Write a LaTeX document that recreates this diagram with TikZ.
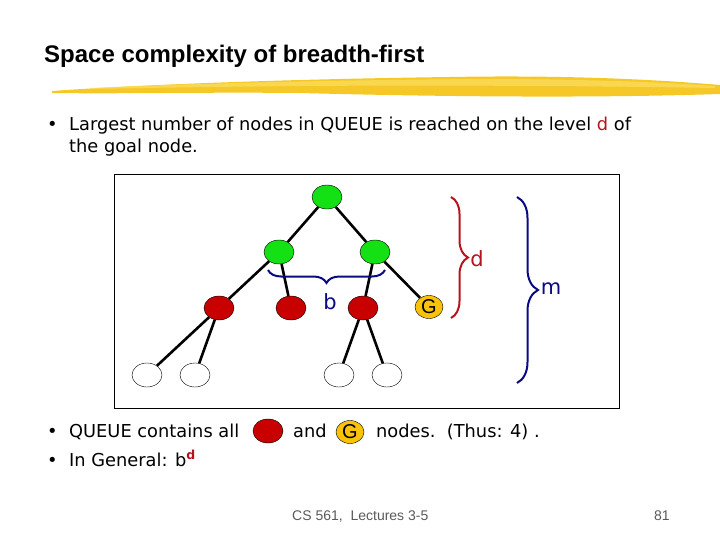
\documentclass[tikz,border=0pt]{standalone}
\usepackage{fontspec}
\setmainfont{Liberation Sans}
\newfontfamily\bodyfont{DejaVu Sans}
\usetikzlibrary{shapes.geometric,decorations.pathreplacing}
\definecolor{nodegreen}{RGB}{20,225,20}
\definecolor{nodered}{RGB}{200,0,0}
\definecolor{goalgold}{RGB}{250,195,10}
\definecolor{bracered}{RGB}{180,20,30}
\definecolor{bracenavy}{RGB}{10,10,130}
\definecolor{hlyellow}{RGB}{245,200,40}
\definecolor{hllight}{RGB}{252,222,95}
\definecolor{footgray}{RGB}{90,90,90}
\tikzset{
  tnode/.style={ellipse, draw=black, thin, minimum width=30pt, minimum height=24pt, inner sep=0pt},
  greennode/.style={tnode, fill=nodegreen},
  rednode/.style={tnode, fill=nodered},
  whitenode/.style={tnode, fill=white},
  goalnode/.style={tnode, fill=goalgold, minimum width=28pt, minimum height=23pt, font=\fontsize{20}{20}\selectfont},
  treeedge/.style={line width=2.6pt},
  bracepath/.style={decorate, line width=2pt},
  bodytext/.style={anchor=base west, inner sep=0pt, font=\bodyfont\fontsize{17.8}{20}\selectfont},
  bracelabel/.style={font=\bodyfont\fontsize{21}{21}\selectfont, inner sep=0pt}
}
\begin{document}
\begin{tikzpicture}[x=1pt, y=-1pt]
  \useasboundingbox (0,0) rectangle (720,540);

  % Title and highlight stroke
  \fill[hlyellow] (52,91) .. controls (150,84) and (300,79) .. (450,77)
    .. controls (560,75) and (650,79) .. (720,85) -- (720,94)
    .. controls (600,98) and (450,97) .. (300,93)
    .. controls (200,92) and (120,94) .. (52,93) -- cycle;
  \fill[hllight, opacity=0.7] (90,88) .. controls (200,83) and (350,80) .. (480,79)
    .. controls (580,79) and (660,82) .. (715,86) -- (715,88)
    .. controls (600,86) and (450,85) .. (300,86) .. controls (200,87) and (140,88) .. (90,89) -- cycle;
  \node[anchor=base west, inner sep=0pt, font=\fontsize{24}{28}\selectfont\bfseries] (title) at (44,63) {Space complexity of breadth-first};

  % Top bullet
  \node[bodytext] (bul1) at (47,131) {•};
  \node[bodytext] (line1) at (69,131) {Largest number of nodes in QUEUE is reached on the level \textcolor{bracered}{d} of};
  \node[bodytext] (line2) at (69,153) {the goal node.};

  % Frame
  \draw[line width=1pt] (114,175) rectangle (619,408);

  % Tree nodes
  \node[greennode] (r) at (327,197) {};
  \node[greennode] (a1) at (279,252) {};
  \node[greennode] (a2) at (375,252) {};
  \node[rednode] (c1) at (219,308) {};
  \node[rednode] (c2) at (291,308) {};
  \node[rednode] (c3) at (363,308) {};
  \node[goalnode] (g) at (429,307) {G};
  \node[whitenode] (l1) at (147,375) {};
  \node[whitenode] (l2) at (195,375) {};
  \node[whitenode] (l3) at (339,375) {};
  \node[whitenode] (l4) at (387,375) {};

  % Tree edges
  \draw[treeedge] (r) -- (a1);
  \draw[treeedge] (r) -- (a2);
  \draw[treeedge] (a1) -- (c1);
  \draw[treeedge] (a1) -- (c2);
  \draw[treeedge] (a2) -- (c3);
  \draw[treeedge] (a2) -- (g);
  \draw[treeedge] (c1) -- (l1);
  \draw[treeedge] (c1) -- (l2);
  \draw[treeedge] (c3) -- (l3);
  \draw[treeedge] (c3) -- (l4);

  % Braces
  \coordinate (bL) at (268,270);
  \coordinate (bR) at (385,270);
  \draw[bracepath, draw=bracenavy, decoration={brace, mirror, amplitude=13pt}] (bL) -- (bR);
  \node[bracelabel, text=bracenavy] (blabel) at (330,302) {b};

  \coordinate (dT) at (451,197);
  \coordinate (dB) at (451,318);
  \draw[bracepath, draw=bracered, decoration={brace, amplitude=17pt}] (dT) -- (dB);
  \node[bracelabel, text=bracered] (dlabel) at (477,259) {d};

  \coordinate (mT) at (517,197);
  \coordinate (mB) at (517,383);
  \draw[bracepath, draw=bracenavy, decoration={brace, amplitude=21pt}] (mT) -- (mB);
  \node[bracelabel, text=bracenavy] (mlabel) at (551,289) {m};

  % Bottom bullets
  \node[bodytext] (bul2) at (47,437) {•};
  \node[bodytext] (line3) at (69,437) {QUEUE contains all};
  \node[rednode] (qred) at (268,431) {};
  \node[bodytext] (line3b) at (293,437) {and};
  \node[goalnode] (qgoal) at (350,432) {G};
  \node[bodytext] (line3c) at (376,437) {nodes.\ \ (Thus: 4) .};
  \node[bodytext] (bul3) at (47,466) {•};
  \node[bodytext] (line4) at (69,466) {In General: b\textsuperscript{\textcolor{bracered}{\bfseries d}}};

  % Footer
  \node[anchor=base west, inner sep=0pt, text=footgray, font=\fontsize{14}{16}\selectfont] (foot) at (292,520) {CS 561,\ \ Lectures 3-5};
  \node[anchor=base west, inner sep=0pt, text=footgray, font=\fontsize{14}{16}\selectfont] (page) at (654,520) {81};
\end{tikzpicture}
\end{document}
